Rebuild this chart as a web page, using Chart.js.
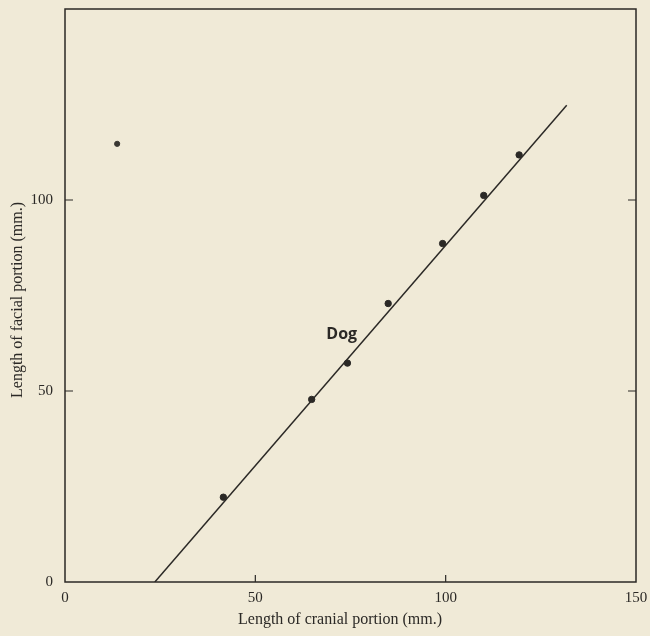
<!DOCTYPE html>
<html>
<head>
<meta charset="utf-8">
<script src="https://cdn.jsdelivr.net/npm/chart.js@4.4.1/dist/chart.umd.min.js"></script>
<style>
  html, body { margin: 0; padding: 0; background: #f0ead7; }
  #wrap { width: 650px; height: 636px; position: relative; }
</style>
</head>
<body>
<div id="wrap"><canvas id="chart"></canvas></div>
<script>
// ── Données ────────────────────────────────────────────────
const dogCranial = [41.6, 64.8, 74.2, 84.9, 99.2, 110.0, 119.3];
const dogFacial  = [22.2, 47.8, 57.3, 72.9, 88.6, 101.2, 111.8];
const strayCranial = [13.7];
const strayFacial  = [114.7];
const fitCranial = [23.6, 131.8];
const fitFacial  = [0, 124.8];
const xTickValues = [0, 50, 100, 150];
const yTickValues = [0, 50, 100];

const INK = '#2b2926';
const SERIF = '"Liberation Serif", "DejaVu Serif", serif';

const toPoints = (xs, ys) => xs.map((x, i) => ({ x: x, y: ys[i] }));

// ── Cadre, graduations intérieures, titres, étiquette « Dog » ──
const framePlugin = {
    id: 'frame',
    afterDraw(chart) {
        const { ctx, chartArea: a, scales: { x, y } } = chart;
        ctx.save();
        ctx.strokeStyle = INK;
        ctx.lineWidth = 1.5;
        ctx.strokeRect(a.left, a.top, a.right - a.left, a.bottom - a.top);

        ctx.lineWidth = 1.2;
        ctx.beginPath();
        xTickValues.slice(1, -1).forEach(v => {
            const px = x.getPixelForValue(v);
            ctx.moveTo(px, a.bottom); ctx.lineTo(px, a.bottom - 7);
        });
        yTickValues.slice(1).forEach(v => {
            const py = y.getPixelForValue(v);
            ctx.moveTo(a.left, py); ctx.lineTo(a.left + 8, py);
            ctx.moveTo(a.right, py); ctx.lineTo(a.right - 8, py);
        });
        ctx.stroke();

        ctx.fillStyle = INK;
        ctx.font = '16px ' + SERIF;
        ctx.textAlign = 'center';
        ctx.textBaseline = 'middle';
        ctx.fillText('Length of cranial portion (mm.)', 340, 620);
        ctx.save();
        ctx.translate(18, 300);
        ctx.rotate(-Math.PI / 2);
        ctx.fillText('Length of facial portion (mm.)', 0, 0);
        ctx.restore();

        ctx.font = 'bold 16px "Open Sans", "DejaVu Sans", sans-serif';
        ctx.fillText('Dog', x.getPixelForValue(72.7), y.getPixelForValue(64.8));
        ctx.restore();
    }
};

new Chart(document.getElementById('chart'), {
    type: 'scatter',
    data: {
        datasets: [
            {
                label: 'Dog',
                data: toPoints(dogCranial, dogFacial),
                backgroundColor: INK,
                borderColor: INK,
                pointRadius: 3.2,
                pointHoverRadius: 3.2
            },
            {
                label: 'stray',
                data: toPoints(strayCranial, strayFacial),
                backgroundColor: '#3a3833',
                borderColor: '#3a3833',
                pointRadius: 2.6
            },
            {
                label: 'fit',
                type: 'line',
                data: toPoints(fitCranial, fitFacial),
                borderColor: INK,
                borderWidth: 1.5,
                pointRadius: 0,
                fill: false,
                tension: 0
            }
        ]
    },
    options: {
        responsive: true,
        maintainAspectRatio: false,
        animation: false,
        layout: { padding: { top: 9, right: 14, left: 0, bottom: 0 } },
        plugins: { legend: { display: false }, tooltip: { enabled: false } },
        scales: {
            x: {
                type: 'linear',
                min: 0, max: 150,
                afterFit: s => { s.height = 54; s.paddingLeft = 0; s.paddingRight = 0; },
                afterBuildTicks: s => { s.ticks = xTickValues.map(v => ({ value: v })); },
                grid: { display: false, drawTicks: false },
                border: { display: false },
                ticks: { color: INK, padding: 7, font: { family: SERIF, size: 15 } }
            },
            y: {
                type: 'linear',
                min: 0, max: 150,
                afterFit: s => { s.width = 65; s.paddingTop = 0; s.paddingBottom = 0; },
                afterBuildTicks: s => { s.ticks = yTickValues.map(v => ({ value: v })); },
                grid: { display: false, drawTicks: false },
                border: { display: false },
                ticks: { color: INK, padding: 12, font: { family: SERIF, size: 15 } }
            }
        }
    },
    plugins: [framePlugin]
});
</script>
</body>
</html>
